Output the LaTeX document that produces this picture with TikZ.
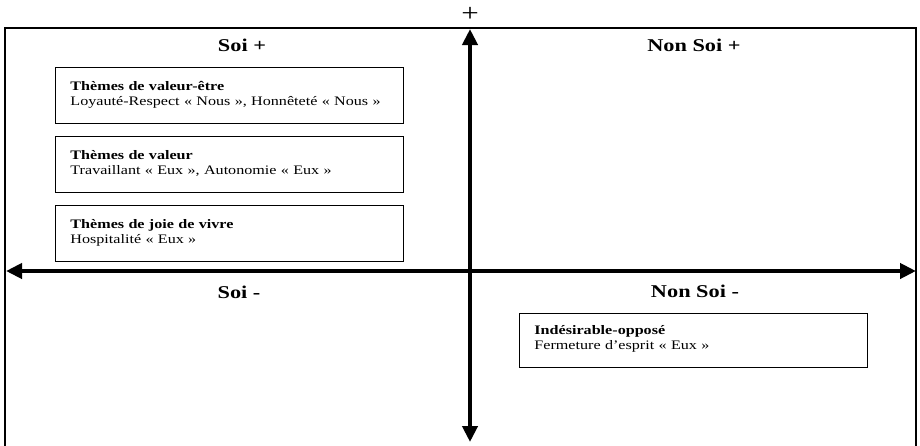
\documentclass[tikz,border=0pt]{standalone}
\usepackage{fontspec}
\setmainfont{Liberation Serif}[FakeStretch=1.24]
\usetikzlibrary{arrows.meta,positioning}

\begin{document}
\begin{tikzpicture}[x=1pt,y=-1pt,>={Triangle[length=16pt,width=15pt]},
  theme/.style={draw,rectangle,line width=0.9pt,text width=318pt,inner xsep=15pt,minimum height=56pt,align=left,anchor=north west,text depth=19pt,font=\fontsize{13}{15}\selectfont},
  quadrant/.style={font=\fontsize{18}{20}\selectfont\bfseries},
  axis/.style={line width=4.5pt,<->}]
\useasboundingbox (0,0) rectangle (920,445);
% outer frame (its bottom is cut off)
\draw[line width=1.2pt] (5,28) rectangle (916,470);

% quadrant titles
\node[quadrant] (soiplus) at (242,45) {Soi +};
\node[quadrant] (nonsoiplus) at (694,45) {Non Soi +};
\node[quadrant] (soiminus) at (239,292) {Soi -};
\node[quadrant] (nonsoiminus) at (695,291) {Non Soi -};

% theme boxes
\node[theme] (etre) at (55,67) {\textbf{Thèmes de valeur-être}\\Loyauté-Respect « Nous », Honnêteté « Nous »};
\node[theme,below=12pt of etre] (valeur) {\textbf{Thèmes de valeur}\\Travaillant « Eux », Autonomie « Eux »};
\node[theme,below=12pt of valeur] (joie) {\textbf{Thèmes de joie de vivre}\\Hospitalité « Eux »};
\node[theme,minimum height=54pt,text depth=21pt] (oppose) at (519,313) {\textbf{Indésirable-opposé}\\Fermeture d’esprit « Eux »};

% axes
\coordinate (north) at (470,29);
\coordinate (south) at (470,442);
\coordinate (west) at (6,271);
\coordinate (east) at (916,271);
\draw[axis] (west) -- (east);
\draw[axis] (south) -- (north);
\node[font=\fontsize{25}{27}\selectfont,inner sep=0pt] (plus) at (470,14) {+};
\end{tikzpicture}
\end{document}
